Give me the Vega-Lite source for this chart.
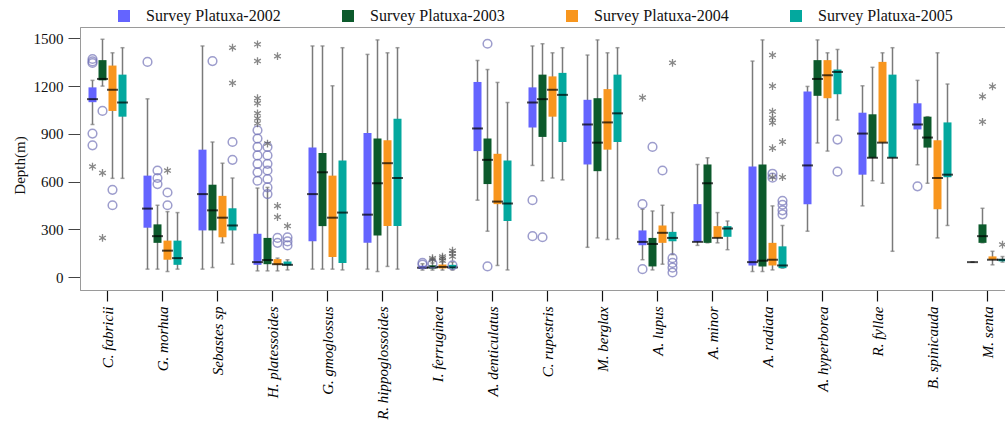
{
  "$schema": "https://vega.github.io/schema/vega-lite/v6.json",
  "autosize": {"type": "none"},
  "padding": {"left": 80, "top": 27, "right": -10, "bottom": 146},
  "width": 935,
  "height": 263,
  "background": "white",
  "datasets": {
    "boxes": [
      {"sp":"C. fabricii","yr":"2002","lw":959,"q1":1099,"med":1118,"q3":1192,"uw":1236},
      {"sp":"C. fabricii","yr":"2003","lw":1200,"q1":1236,"med":1245,"q3":1363,"uw":1494},
      {"sp":"C. fabricii","yr":"2004","lw":621,"q1":1044,"med":1177,"q3":1329,"uw":1409},
      {"sp":"C. fabricii","yr":"2005","lw":621,"q1":1008,"med":1097,"q3":1272,"uw":1441},
      {"sp":"G. morhua","yr":"2002","lw":51,"q1":311,"med":431,"q3":638,"uw":1120},
      {"sp":"G. morhua","yr":"2003","lw":51,"q1":216,"med":258,"q3":332,"uw":452},
      {"sp":"G. morhua","yr":"2004","lw":36,"q1":110,"med":167,"q3":230,"uw":412},
      {"sp":"G. morhua","yr":"2005","lw":51,"q1":78,"med":120,"q3":230,"uw":406},
      {"sp":"Sebastes sp","yr":"2002","lw":51,"q1":294,"med":522,"q3":801,"uw":1452},
      {"sp":"Sebastes sp","yr":"2003","lw":61,"q1":294,"med":420,"q3":581,"uw":849},
      {"sp":"Sebastes sp","yr":"2004","lw":216,"q1":251,"med":374,"q3":511,"uw":716},
      {"sp":"Sebastes sp","yr":"2005","lw":82,"q1":294,"med":325,"q3":433,"uw":623},
      {"sp":"H. platessoides","yr":"2002","lw":40,"q1":78,"med":95,"q3":273,"uw":560},
      {"sp":"H. platessoides","yr":"2003","lw":40,"q1":82,"med":108,"q3":247,"uw":564},
      {"sp":"H. platessoides","yr":"2004","lw":40,"q1":78,"med":82,"q3":114,"uw":120},
      {"sp":"H. platessoides","yr":"2005","lw":46,"q1":74,"med":78,"q3":99,"uw":110},
      {"sp":"G. gmoglossus","yr":"2002","lw":51,"q1":226,"med":522,"q3":814,"uw":1452},
      {"sp":"G. gmoglossus","yr":"2003","lw":51,"q1":321,"med":659,"q3":780,"uw":1452},
      {"sp":"G. gmoglossus","yr":"2004","lw":51,"q1":127,"med":374,"q3":638,"uw":1202},
      {"sp":"G. gmoglossus","yr":"2005","lw":46,"q1":89,"med":406,"q3":733,"uw":1441},
      {"sp":"R. hippoglossoides","yr":"2002","lw":51,"q1":216,"med":393,"q3":906,"uw":1399},
      {"sp":"R. hippoglossoides","yr":"2003","lw":36,"q1":262,"med":590,"q3":871,"uw":1490},
      {"sp":"R. hippoglossoides","yr":"2004","lw":68,"q1":321,"med":716,"q3":860,"uw":1409},
      {"sp":"R. hippoglossoides","yr":"2005","lw":51,"q1":321,"med":623,"q3":995,"uw":1441},
      {"sp":"I. ferruginea","yr":"2002","lw":45,"q1":52,"med":60,"q3":72,"uw":85},
      {"sp":"I. ferruginea","yr":"2003","lw":45,"q1":55,"med":62,"q3":75,"uw":90},
      {"sp":"I. ferruginea","yr":"2004","lw":45,"q1":55,"med":65,"q3":80,"uw":95},
      {"sp":"I. ferruginea","yr":"2005","lw":45,"q1":55,"med":62,"q3":78,"uw":95},
      {"sp":"A. denticulatus","yr":"2002","lw":484,"q1":792,"med":934,"q3":1226,"uw":1361},
      {"sp":"A. denticulatus","yr":"2003","lw":289,"q1":585,"med":737,"q3":871,"uw":1304},
      {"sp":"A. denticulatus","yr":"2004","lw":74,"q1":459,"med":475,"q3":775,"uw":1223},
      {"sp":"A. denticulatus","yr":"2005","lw":46,"q1":353,"med":463,"q3":733,"uw":1097},
      {"sp":"C. rupestris","yr":"2002","lw":702,"q1":940,"med":1097,"q3":1192,"uw":1452},
      {"sp":"C. rupestris","yr":"2003","lw":606,"q1":881,"med":1118,"q3":1272,"uw":1466},
      {"sp":"C. rupestris","yr":"2004","lw":623,"q1":1008,"med":1177,"q3":1261,"uw":1409},
      {"sp":"C. rupestris","yr":"2005","lw":611,"q1":849,"med":1145,"q3":1283,"uw":1441},
      {"sp":"M. berglax","yr":"2002","lw":188,"q1":708,"med":959,"q3":1114,"uw":1395},
      {"sp":"M. berglax","yr":"2003","lw":247,"q1":666,"med":845,"q3":1124,"uw":1490},
      {"sp":"M. berglax","yr":"2004","lw":237,"q1":801,"med":972,"q3":1181,"uw":1409},
      {"sp":"M. berglax","yr":"2005","lw":241,"q1":849,"med":1029,"q3":1272,"uw":1441},
      {"sp":"A. lupus","yr":"2002","lw":110,"q1":201,"med":222,"q3":294,"uw":427},
      {"sp":"A. lupus","yr":"2003","lw":46,"q1":68,"med":209,"q3":247,"uw":416},
      {"sp":"A. lupus","yr":"2004","lw":82,"q1":216,"med":279,"q3":325,"uw":452},
      {"sp":"A. lupus","yr":"2005","lw":142,"q1":226,"med":247,"q3":285,"uw":406},
      {"sp":"A. minor","yr":"2002","lw":200,"q1":222,"med":222,"q3":459,"uw":708},
      {"sp":"A. minor","yr":"2003","lw":216,"q1":216,"med":590,"q3":708,"uw":750},
      {"sp":"A. minor","yr":"2004","lw":216,"q1":247,"med":247,"q3":321,"uw":406},
      {"sp":"A. minor","yr":"2005","lw":173,"q1":254,"med":306,"q3":321,"uw":353},
      {"sp":"A. radiata","yr":"2002","lw":36,"q1":74,"med":95,"q3":695,"uw":1357},
      {"sp":"A. radiata","yr":"2003","lw":36,"q1":68,"med":104,"q3":708,"uw":1490},
      {"sp":"A. radiata","yr":"2004","lw":46,"q1":74,"med":110,"q3":216,"uw":448},
      {"sp":"A. radiata","yr":"2005","lw":57,"q1":57,"med":74,"q3":194,"uw":325},
      {"sp":"A. hyperborea","yr":"2002","lw":289,"q1":459,"med":702,"q3":1166,"uw":1198},
      {"sp":"A. hyperborea","yr":"2003","lw":843,"q1":1139,"med":1245,"q3":1363,"uw":1490},
      {"sp":"A. hyperborea","yr":"2004","lw":792,"q1":1124,"med":1268,"q3":1363,"uw":1409},
      {"sp":"A. hyperborea","yr":"2005","lw":987,"q1":1149,"med":1289,"q3":1304,"uw":1430},
      {"sp":"R. fyllae","yr":"2002","lw":448,"q1":644,"med":902,"q3":1033,"uw":1202},
      {"sp":"R. fyllae","yr":"2003","lw":606,"q1":750,"med":750,"q3":1023,"uw":1318},
      {"sp":"R. fyllae","yr":"2004","lw":590,"q1":845,"med":845,"q3":1352,"uw":1409},
      {"sp":"R. fyllae","yr":"2005","lw":163,"q1":750,"med":750,"q3":1272,"uw":1441},
      {"sp":"B. spinicauda","yr":"2002","lw":706,"q1":928,"med":959,"q3":1092,"uw":1236},
      {"sp":"B. spinicauda","yr":"2003","lw":590,"q1":814,"med":877,"q3":1008,"uw":1008},
      {"sp":"B. spinicauda","yr":"2004","lw":247,"q1":427,"med":623,"q3":860,"uw":1409},
      {"sp":"B. spinicauda","yr":"2005","lw":325,"q1":628,"med":644,"q3":972,"uw":1213},
      {"sp":"M. senta","yr":"2002","lw":95,"q1":95,"med":95,"q3":95,"uw":95},
      {"sp":"M. senta","yr":"2003","lw":216,"q1":216,"med":258,"q3":332,"uw":433},
      {"sp":"M. senta","yr":"2004","lw":78,"q1":110,"med":110,"q3":131,"uw":163},
      {"sp":"M. senta","yr":"2005","lw":95,"q1":100,"med":110,"q3":115,"uw":130}
    ],
    "outs": [
      {"sp":"C. fabricii","yr":"2002","k":"o","v":1370},
      {"sp":"C. fabricii","yr":"2002","k":"o","v":1355},
      {"sp":"C. fabricii","yr":"2002","k":"o","v":1345},
      {"sp":"C. fabricii","yr":"2002","k":"o","v":902},
      {"sp":"C. fabricii","yr":"2002","k":"o","v":828},
      {"sp":"C. fabricii","yr":"2002","k":"e","v":695},
      {"sp":"C. fabricii","yr":"2003","k":"o","v":1044},
      {"sp":"C. fabricii","yr":"2003","k":"e","v":655},
      {"sp":"C. fabricii","yr":"2003","k":"e","v":247},
      {"sp":"C. fabricii","yr":"2004","k":"o","v":549},
      {"sp":"C. fabricii","yr":"2004","k":"o","v":452},
      {"sp":"G. morhua","yr":"2002","k":"o","v":1352},
      {"sp":"G. morhua","yr":"2003","k":"o","v":670},
      {"sp":"G. morhua","yr":"2003","k":"o","v":623},
      {"sp":"G. morhua","yr":"2003","k":"o","v":585},
      {"sp":"G. morhua","yr":"2004","k":"o","v":532},
      {"sp":"G. morhua","yr":"2004","k":"o","v":452},
      {"sp":"G. morhua","yr":"2004","k":"e","v":670},
      {"sp":"Sebastes sp","yr":"2003","k":"o","v":1357},
      {"sp":"Sebastes sp","yr":"2005","k":"o","v":849},
      {"sp":"Sebastes sp","yr":"2005","k":"o","v":737},
      {"sp":"Sebastes sp","yr":"2005","k":"e","v":1441},
      {"sp":"Sebastes sp","yr":"2005","k":"e","v":1219},
      {"sp":"H. platessoides","yr":"2002","k":"o","v":923},
      {"sp":"H. platessoides","yr":"2002","k":"o","v":871},
      {"sp":"H. platessoides","yr":"2002","k":"o","v":818},
      {"sp":"H. platessoides","yr":"2002","k":"o","v":765},
      {"sp":"H. platessoides","yr":"2002","k":"o","v":712},
      {"sp":"H. platessoides","yr":"2002","k":"o","v":659},
      {"sp":"H. platessoides","yr":"2002","k":"o","v":606},
      {"sp":"H. platessoides","yr":"2002","k":"e","v":1462},
      {"sp":"H. platessoides","yr":"2002","k":"e","v":1357},
      {"sp":"H. platessoides","yr":"2002","k":"e","v":1124},
      {"sp":"H. platessoides","yr":"2002","k":"e","v":1092},
      {"sp":"H. platessoides","yr":"2002","k":"e","v":1029},
      {"sp":"H. platessoides","yr":"2002","k":"e","v":997},
      {"sp":"H. platessoides","yr":"2002","k":"e","v":966},
      {"sp":"H. platessoides","yr":"2003","k":"o","v":818},
      {"sp":"H. platessoides","yr":"2003","k":"o","v":765},
      {"sp":"H. platessoides","yr":"2003","k":"o","v":712},
      {"sp":"H. platessoides","yr":"2003","k":"o","v":670},
      {"sp":"H. platessoides","yr":"2003","k":"o","v":617},
      {"sp":"H. platessoides","yr":"2003","k":"o","v":564},
      {"sp":"H. platessoides","yr":"2003","k":"o","v":522},
      {"sp":"H. platessoides","yr":"2003","k":"e","v":839},
      {"sp":"H. platessoides","yr":"2004","k":"o","v":247},
      {"sp":"H. platessoides","yr":"2004","k":"o","v":216},
      {"sp":"H. platessoides","yr":"2004","k":"e","v":1388},
      {"sp":"H. platessoides","yr":"2004","k":"e","v":448},
      {"sp":"H. platessoides","yr":"2004","k":"e","v":378},
      {"sp":"H. platessoides","yr":"2005","k":"o","v":250},
      {"sp":"H. platessoides","yr":"2005","k":"o","v":225},
      {"sp":"H. platessoides","yr":"2005","k":"o","v":200},
      {"sp":"H. platessoides","yr":"2005","k":"e","v":321},
      {"sp":"I. ferruginea","yr":"2002","k":"o","v":80},
      {"sp":"I. ferruginea","yr":"2002","k":"o","v":90},
      {"sp":"I. ferruginea","yr":"2003","k":"o","v":85},
      {"sp":"I. ferruginea","yr":"2003","k":"e","v":110},
      {"sp":"I. ferruginea","yr":"2003","k":"e","v":120},
      {"sp":"I. ferruginea","yr":"2004","k":"e","v":105},
      {"sp":"I. ferruginea","yr":"2004","k":"e","v":120},
      {"sp":"I. ferruginea","yr":"2004","k":"e","v":130},
      {"sp":"I. ferruginea","yr":"2005","k":"e","v":130},
      {"sp":"I. ferruginea","yr":"2005","k":"e","v":150},
      {"sp":"I. ferruginea","yr":"2005","k":"e","v":167},
      {"sp":"I. ferruginea","yr":"2005","k":"o","v":75},
      {"sp":"A. denticulatus","yr":"2003","k":"o","v":1466},
      {"sp":"A. denticulatus","yr":"2003","k":"o","v":68},
      {"sp":"C. rupestris","yr":"2002","k":"o","v":484},
      {"sp":"C. rupestris","yr":"2002","k":"o","v":258},
      {"sp":"C. rupestris","yr":"2003","k":"o","v":251},
      {"sp":"A. lupus","yr":"2002","k":"o","v":459},
      {"sp":"A. lupus","yr":"2002","k":"o","v":51},
      {"sp":"A. lupus","yr":"2002","k":"e","v":1128},
      {"sp":"A. lupus","yr":"2003","k":"o","v":818},
      {"sp":"A. lupus","yr":"2004","k":"o","v":670},
      {"sp":"A. lupus","yr":"2005","k":"o","v":120},
      {"sp":"A. lupus","yr":"2005","k":"o","v":90},
      {"sp":"A. lupus","yr":"2005","k":"o","v":60},
      {"sp":"A. lupus","yr":"2005","k":"o","v":30},
      {"sp":"A. lupus","yr":"2005","k":"e","v":1346},
      {"sp":"A. radiata","yr":"2004","k":"e","v":1395},
      {"sp":"A. radiata","yr":"2004","k":"e","v":1200},
      {"sp":"A. radiata","yr":"2004","k":"e","v":1040},
      {"sp":"A. radiata","yr":"2004","k":"e","v":1000},
      {"sp":"A. radiata","yr":"2004","k":"e","v":970},
      {"sp":"A. radiata","yr":"2004","k":"e","v":810},
      {"sp":"A. radiata","yr":"2004","k":"e","v":628},
      {"sp":"A. radiata","yr":"2004","k":"o","v":650},
      {"sp":"A. radiata","yr":"2004","k":"o","v":625},
      {"sp":"A. radiata","yr":"2005","k":"e","v":850},
      {"sp":"A. radiata","yr":"2005","k":"e","v":628},
      {"sp":"A. radiata","yr":"2005","k":"o","v":480},
      {"sp":"A. radiata","yr":"2005","k":"o","v":455},
      {"sp":"A. radiata","yr":"2005","k":"o","v":420},
      {"sp":"A. radiata","yr":"2005","k":"o","v":395},
      {"sp":"A. hyperborea","yr":"2005","k":"o","v":864},
      {"sp":"A. hyperborea","yr":"2005","k":"o","v":663},
      {"sp":"B. spinicauda","yr":"2002","k":"o","v":571},
      {"sp":"M. senta","yr":"2003","k":"e","v":1135},
      {"sp":"M. senta","yr":"2003","k":"e","v":976},
      {"sp":"M. senta","yr":"2004","k":"e","v":1198},
      {"sp":"M. senta","yr":"2005","k":"e","v":205}
    ]
  },
  "config": {
    "view": {"stroke": "#9a9a9a", "strokeWidth": 1},
    "font": "Liberation Serif",
    "axisY": {
      "labelFont": "Liberation Serif", "labelFontSize": 15, "labelColor": "#111",
      "tickSize": 12, "tickColor": "#444", "domainColor": "#9a9a9a", "labelPadding": 5,
      "titleFont": "Liberation Serif", "titleFontSize": 15, "titleFontWeight": "normal", "titleColor": "#111",
      "titleX": -61, "titleY": 138, "titleAngle": 270, "titleBaseline": "middle", "titleAlign": "center",
      "grid": false
    },
    "axisX": {
      "labelAngle": -90, "labelFont": "Liberation Serif", "labelFontStyle": "italic", "labelFontSize": 15,
      "labelColor": "#000", "tickSize": 11, "tickColor": "#111", "tickWidth": 1.2, "labelPadding": 5,
      "domainColor": "#9a9a9a", "grid": false, "labelLimit": 250
    }
  },
  "encoding": {
    "x": {
      "field": "sp", "type": "nominal", "title": null,
      "sort": ["C. fabricii","G. morhua","Sebastes sp","H. platessoides","G. gmoglossus","R. hippoglossoides","I. ferruginea","A. denticulatus","C. rupestris","M. berglax","A. lupus","A. minor","A. radiata","A. hyperborea","R. fyllae","B. spinicauda","M. senta"],
      "scale": {"paddingInner": 0, "paddingOuter": 0}
    },
    "xOffset": {"field": "yr", "type": "nominal", "scale": {"paddingInner": 0.2, "paddingOuter": 0.85}}
  },
  "layer": [
    {
      "data": {"name": "boxes"},
      "mark": {"type": "rule", "color": "#7a7a7a", "strokeWidth": 1.5},
      "encoding": {
        "y": {"field": "lw", "type": "quantitative", "title": "Depth(m)", "scale": {"domain": [-80, 1571], "nice": false, "zero": false}, "axis": {"values": [0, 300, 600, 900, 1200, 1500], "format": "d"}},
        "y2": {"field": "uw"}
      }
    },
    {
      "data": {"name": "boxes"},
      "mark": {"type": "tick", "color": "#7a7a7a", "size": 4, "thickness": 1.5},
      "encoding": {
        "y": {"field": "lw", "type": "quantitative", "title": "Depth(m)", "scale": {"domain": [-80, 1571], "nice": false, "zero": false}, "axis": {"values": [0, 300, 600, 900, 1200, 1500], "format": "d"}}
      }
    },
    {
      "data": {"name": "boxes"},
      "mark": {"type": "tick", "color": "#7a7a7a", "size": 4, "thickness": 1.5},
      "encoding": {
        "y": {"field": "uw", "type": "quantitative", "title": "Depth(m)", "scale": {"domain": [-80, 1571], "nice": false, "zero": false}, "axis": {"values": [0, 300, 600, 900, 1200, 1500], "format": "d"}}
      }
    },
    {
      "data": {"name": "boxes"},
      "mark": {"type": "bar"},
      "encoding": {
        "y": {"field": "q1", "type": "quantitative", "title": "Depth(m)", "scale": {"domain": [-80, 1571], "nice": false, "zero": false}, "axis": {"values": [0, 300, 600, 900, 1200, 1500], "format": "d"}},
        "y2": {"field": "q3"},
        "color": {
          "field": "yr", "type": "nominal",
          "scale": {"domain": ["2002", "2003", "2004", "2005"], "range": ["#6464ff", "#0c5a2c", "#f8961e", "#03a89e"]},
          "legend": {
            "orient": "none", "legendX": 36, "legendY": -19, "direction": "horizontal", "columns": 4,
            "title": null, "symbolType": "square", "symbolSize": 144, "symbolStrokeWidth": 0,
            "labelFont": "Liberation Serif", "labelFontSize": 16, "labelColor": "#111", "labelOffset": 14,
            "columnPadding": 59, "labelLimit": 300, "padding": 0,
            "labelExpr": "'Survey Platuxa-' + datum.label"
          }
        }
      }
    },
    {
      "data": {"name": "boxes"},
      "mark": {"type": "tick", "color": "#000", "size": 11, "thickness": 2},
      "encoding": {
        "y": {"field": "med", "type": "quantitative", "title": "Depth(m)", "scale": {"domain": [-80, 1571], "nice": false, "zero": false}, "axis": {"values": [0, 300, 600, 900, 1200, 1500], "format": "d"}}
      }
    },
    {
      "data": {"name": "outs"},
      "transform": [{"filter": "datum.k == 'o'"}],
      "mark": {"type": "point", "shape": "circle", "filled": false, "stroke": "#7474b8", "strokeWidth": 1.5, "size": 75},
      "encoding": {
        "y": {"field": "v", "type": "quantitative", "title": "Depth(m)", "scale": {"domain": [-80, 1571], "nice": false, "zero": false}, "axis": {"values": [0, 300, 600, 900, 1200, 1500], "format": "d"}}
      }
    },
    {
      "data": {"name": "outs"},
      "transform": [{"filter": "datum.k == 'e'"}],
      "mark": {"type": "point", "shape": "M0,-1L0,1M-0.87,-0.5L0.87,0.5M-0.87,0.5L0.87,-0.5", "filled": false, "stroke": "#555", "strokeWidth": 1.3, "size": 60},
      "encoding": {
        "y": {"field": "v", "type": "quantitative", "title": "Depth(m)", "scale": {"domain": [-80, 1571], "nice": false, "zero": false}, "axis": {"values": [0, 300, 600, 900, 1200, 1500], "format": "d"}}
      }
    }
  ]
}
